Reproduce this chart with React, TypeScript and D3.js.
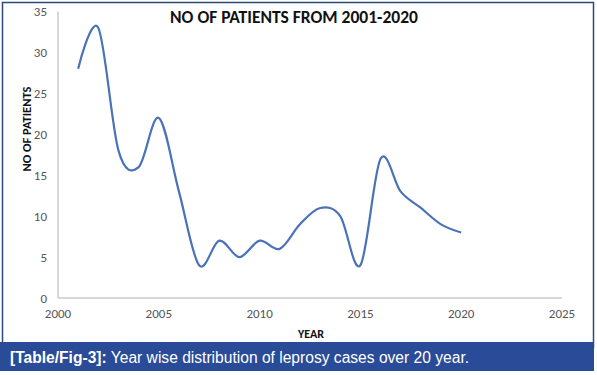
import React from "react";
import * as d3 from "d3";

const years = [2001,2002,2003,2004,2005,2006,2007,2008,2009,2010,2011,2012,2013,2014,2015,2016,2017,2018,2019,2020];
const patients = [28,33,18,16,22,13,4,7,5,7,6,9,11,10,4,17,13,11,9,8];
const xTicks = [2000,2005,2010,2015,2020,2025];
const yTicks = [0,5,10,15,20,25,30,35];

const W = 597, H = 375;

export default function App() {
  const x = d3.scaleLinear().domain([2000, 2025]).range([58, 562]);
  const y = d3.scaleLinear().domain([0, 35]).range([298, 11.5]);
  const line = d3.line<number>()
    .x((_, i) => x(years[i]))
    .y((d) => y(d))
    .curve(d3.curveCatmullRom.alpha(0));
  const font = "Carlito, 'Open Sans', 'Liberation Sans', sans-serif";
  return (
    <svg width={W} height={H} style={{ position: "absolute", left: 0, top: 0 }}>
      <rect x={0} y={0} width={W} height={H} fill="#fff" />
      <rect x={2.5} y={2.5} width={591} height={345} fill="#fff" stroke="#2c4a78" strokeWidth={1.5} />
      <text x={294} y={23} textAnchor="middle" fontFamily={font} fontWeight="bold" fontSize={17.5} fill="#111">NO OF PATIENTS FROM 2001-2020</text>
      <line x1={x(2000)} x2={x(2000)} y1={y(35)} y2={y(0)} stroke="#b0b0b0" strokeWidth={1} />
      <line x1={x(2000)} x2={x(2025)} y1={y(0)} y2={y(0)} stroke="#b0b0b0" strokeWidth={1} />
      {yTicks.map((t) => (
        <text key={t} x={47} y={y(t) + 4.5} textAnchor="end" fontFamily={font} fontSize={13} fill="#555">{t}</text>
      ))}
      {xTicks.map((t) => (
        <text key={t} x={x(t)} y={318} textAnchor="middle" fontFamily={font} fontSize={13} fill="#555">{t}</text>
      ))}
      <text transform={`translate(31,${129}) rotate(-90)`} textAnchor="middle" fontFamily={font} fontWeight="bold" fontSize={12.5} fill="#111">NO OF PATIENTS</text>
      <text x={311} y={338} textAnchor="middle" fontFamily={font} fontWeight="bold" fontSize={12} fill="#111">YEAR</text>
      <path d={line(patients) || ""} fill="none" stroke="#4a72b8" strokeWidth={2.2} />
      <rect x={0} y={342} width={594} height={29} fill="#2a4b97" />
      <text x={10} y={362.5} fontFamily="'Liberation Sans', Arial, sans-serif" fontSize={15.6} fill="#fff">
        <tspan fontWeight="bold">[Table/Fig-3]:</tspan> Year wise distribution of leprosy cases over 20 year.
      </text>
    </svg>
  );
}
